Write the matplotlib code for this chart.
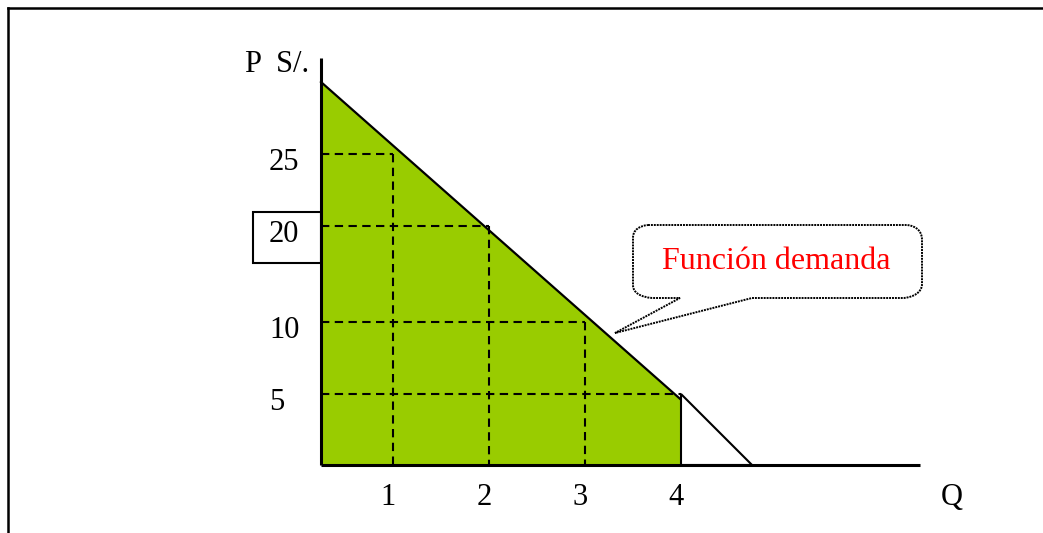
import numpy as np
import matplotlib
matplotlib.use("Agg")
import matplotlib.pyplot as plt
from matplotlib.path import Path
from matplotlib.patches import PathPatch, Rectangle, Polygon
from matplotlib.transforms import Affine2D

# ---------------- data ----------------
quantities = [1, 2, 3, 4]            # Q ticks with dashed guides
prices = [25, 20, 10, 5]             # P ticks with dashed guides
q_labels = ["1", "2", "3", "4"]
p_labels = ["25", "20", "10", "5"]
p_intercept = 30                     # demand curve at Q = 0
q_intercept = 4.74                   # demand curve at P = 0
p_at_q4 = 4.6                        # top of shaded area at Q = 4
callout_text = "Función demanda"

# ---------------- figure ----------------
W, H = 1043, 533
fig = plt.figure(figsize=(W / 100, H / 100), dpi=100)
ax = fig.add_axes([0, 0, 1, 1])
ax.axis("off")

# schematic (hand drawn) axes -> piecewise linear scales
xq = np.array([-20, 0, 1, 2, 3, 4, 30], float)
xp = np.array([321 - 20 * 96, 321, 393, 489, 585, 681, 681 + 26 * 96], float)
yq = np.array([-200, 0, 5, 10, 20, 25, 30, 300], float)
yb = np.array([68, 68, 139, 211, 307, 379, 451, 451], float)
yb[0] = 68 - 200 * 14.4
yb[-1] = 451 + 270 * 14.4

ax.set_xscale("function", functions=(lambda v: np.interp(v, xq, xp),
                                     lambda v: np.interp(v, xp, xq)))
ax.set_yscale("function", functions=(lambda v: np.interp(v, yq, yb),
                                     lambda v: np.interp(v, yb, yq)))
ax.set_xlim(np.interp(0, xp, xq), np.interp(W, xp, xq))
ax.set_ylim(np.interp(0, yb, yq), np.interp(H, yb, yq))

# pixel transform (origin top-left, y downwards)
px = Affine2D().scale(1 / W, -1 / H).translate(0, 1) + fig.transFigure

GREEN = "#99CC00"

# shaded area
ax.add_patch(Polygon([(0, 0), (0, p_intercept), (4, p_at_q4), (4, 0)],
                     closed=True, facecolor=GREEN, edgecolor="none", zorder=1))

# dashed guides
dash = (0, (4, 2.6))
for q, p in zip(quantities, prices):
    ax.plot([0, q], [p, p], color="black", lw=1.5, linestyle=dash, zorder=2)
    if q != 4:
        ax.plot([q, q], [p, 0], color="black", lw=1.5, linestyle=dash, zorder=2)

# demand curve
ax.plot([0, 4], [p_intercept, p_at_q4], color="black", lw=1.6, zorder=3)
ax.add_patch(Polygon([(4, 5), (q_intercept, 0), (4, 0)], closed=True,
                     facecolor="white", edgecolor="black", lw=1.5, zorder=3))

# axes lines
ax.plot([0, 0], [0, np.interp(533 - 58, yb, yq)], color="black", lw=2.2, zorder=4,
        solid_capstyle="butt")
ax.plot([0, np.interp(920, xp, xq)], [0, 0], color="black", lw=2.2, zorder=4,
        solid_capstyle="butt")

serif = ["Liberation Serif", "DejaVu Serif"]
FS = 22

# tick labels
for q, lab in zip(quantities, q_labels):
    ax.annotate(lab, xy=(q, 0), xytext=(-5, -40), textcoords="offset pixels",
                ha="center", va="baseline", fontsize=FS, family=serif)
for p, lab in zip(prices, p_labels):
    ax.annotate(lab, xy=(0, p), xytext=(-52, -16), textcoords="offset pixels",
                ha="left", va="baseline", fontsize=FS, family=serif)

# box around 20
ax.add_patch(Rectangle((253, 212), 68, 51, transform=px, fill=False,
                       edgecolor="black", lw=1.5, zorder=5))

# axis titles
ax.text(245, 72, "P  S/.", transform=px, ha="left", va="baseline",
        fontsize=FS, family=serif)
ax.text(952, 505, "Q", transform=px, ha="center", va="baseline",
        fontsize=FS, family=serif)

# callout
verts = [(648, 225), (907, 225),
         (916, 226), (922, 231), (922, 240),
         (922, 284),
         (922, 292), (914, 297), (904, 298),
         (752, 298), (615, 333), (680, 298), (652, 298),
         (641, 297), (633, 293), (633, 285),
         (633, 238),
         (633, 230), (639, 226), (648, 225),
         (648, 225)]
codes = [Path.MOVETO, Path.LINETO,
         Path.CURVE4, Path.CURVE4, Path.CURVE4,
         Path.LINETO,
         Path.CURVE4, Path.CURVE4, Path.CURVE4,
         Path.LINETO, Path.LINETO, Path.LINETO, Path.LINETO,
         Path.CURVE4, Path.CURVE4, Path.CURVE4,
         Path.LINETO,
         Path.CURVE4, Path.CURVE4, Path.CURVE4,
         Path.CLOSEPOLY]
ax.add_patch(PathPatch(Path(verts, codes), transform=px, facecolor="white",
                       edgecolor="black", lw=1.4, linestyle=(0, (1, 0.5)), zorder=6))
ax.text(776, 269, callout_text, transform=px, ha="center", va="baseline",
        fontsize=23, color="red", family=serif, zorder=7)

# outer frame (top and left edges)
ax.plot([8, W], [8, 8], transform=px, color="black", lw=1.8, clip_on=False)
ax.plot([8, 8], [8, H], transform=px, color="black", lw=1.8, clip_on=False)

fig.savefig("out.png", dpi=100)
